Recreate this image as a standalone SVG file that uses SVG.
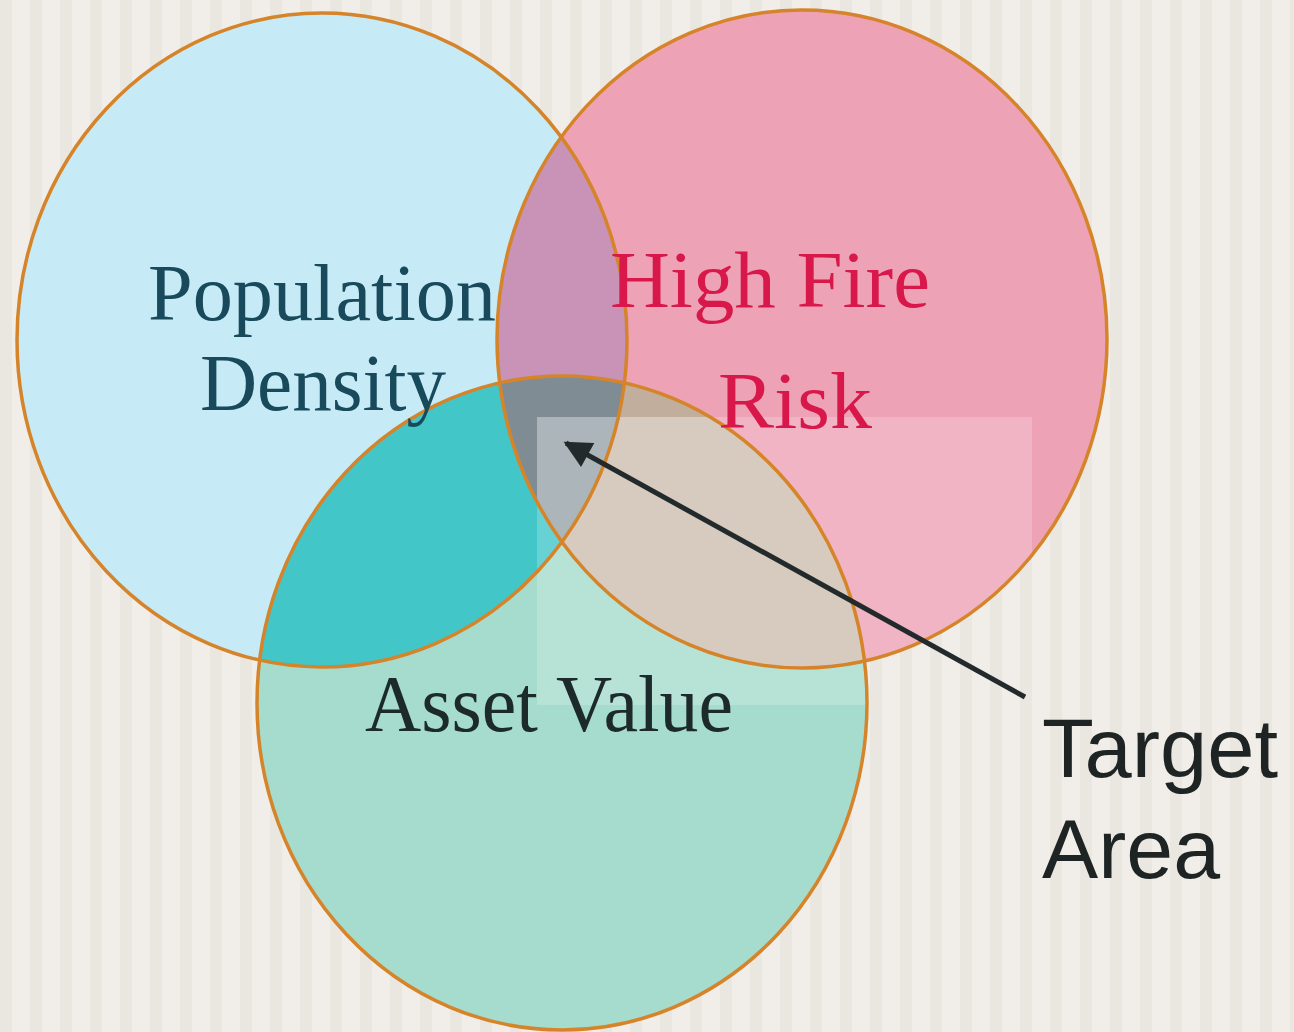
<svg xmlns="http://www.w3.org/2000/svg" width="1294" height="1032" viewBox="0 0 1294 1032">
<defs>
<style>
.ring{fill:none;stroke:#d6842a;stroke-width:3.5}
.lbl{font-family:"Liberation Serif","DejaVu Serif",serif;font-size:80px}
.sans{font-family:"Liberation Sans",Arial,sans-serif;font-size:84px;fill:#1e2424}
</style>
<pattern id="stripes" width="30" height="1032" patternUnits="userSpaceOnUse">
<rect width="30" height="1032" fill="#f1eee9"/>
<rect x="0" width="12" height="1032" fill="#e6e2dc" opacity="0.6"/>
</pattern>
<clipPath id="cBlue"><ellipse cx="322" cy="340" rx="305" ry="327"/></clipPath>
<clipPath id="cRed"><ellipse cx="802" cy="339" rx="305" ry="329"/></clipPath>
<clipPath id="cGreen"><ellipse cx="562" cy="703" rx="305" ry="327"/></clipPath>
<marker id="ah" viewBox="0 0 10 10" refX="9" refY="5" markerWidth="6" markerHeight="5.5" orient="auto" markerUnits="strokeWidth">
<path d="M0,0 L10,5 L0,10 Z" fill="#222a2c"/>
</marker>
</defs>
<rect width="1294" height="1032" fill="url(#stripes)"/>

<g id="node-population-density">
<ellipse cx="322" cy="340" rx="305" ry="327" fill="#c6eaf6"/>
</g>
<g id="node-high-fire-risk">
<ellipse cx="802" cy="339" rx="305" ry="329" fill="#eea2b6"/>
</g>
<g id="node-asset-value">
<ellipse cx="562" cy="703" rx="305" ry="327" fill="#a6dccd"/>
</g>

<g id="overlaps">
<g clip-path="url(#cBlue)"><ellipse cx="802" cy="339" rx="305" ry="329" fill="#c893b6"/></g>
<g clip-path="url(#cBlue)"><ellipse cx="562" cy="703" rx="305" ry="327" fill="#43c6c8"/></g>
<g clip-path="url(#cRed)"><ellipse cx="562" cy="703" rx="305" ry="327" fill="#c2ae9c"/></g>
<g clip-path="url(#cRed)"><g clip-path="url(#cBlue)"><ellipse cx="562" cy="703" rx="305" ry="327" fill="#7f8c94"/></g></g>
<g clip-path="url(#cRed)"><rect x="537" y="417" width="495" height="288" fill="#ffffff" opacity="0.2"/></g>
<g clip-path="url(#cGreen)"><rect x="537" y="417" width="495" height="288" fill="#ffffff" opacity="0.2"/></g>
</g>

<g id="rings">
<ellipse class="ring" cx="322" cy="340" rx="305" ry="327"/>
<ellipse class="ring" cx="802" cy="339" rx="305" ry="329"/>
<ellipse class="ring" cx="562" cy="703" rx="305" ry="327"/>
</g>

<g id="labels">
<text class="lbl" fill="#184a5c" x="148" y="320" textLength="348" lengthAdjust="spacingAndGlyphs">Population</text>
<text class="lbl" fill="#184a5c" x="200" y="410" textLength="246" lengthAdjust="spacingAndGlyphs">Density</text>
<text class="lbl" fill="#d8174a" x="610" y="307" textLength="320" lengthAdjust="spacingAndGlyphs">High Fire</text>
<text class="lbl" fill="#d8174a" x="718" y="428" textLength="154" lengthAdjust="spacingAndGlyphs">Risk</text>
<text class="lbl" fill="#1c2a2c" x="365" y="731" font-size="77" textLength="368" lengthAdjust="spacingAndGlyphs">Asset Value</text>
</g>

<g id="node-target-area">
<text class="sans" x="1042" y="777" textLength="236" lengthAdjust="spacingAndGlyphs">Target</text>
<text class="sans" x="1042" y="878" textLength="178" lengthAdjust="spacingAndGlyphs">Area</text>
</g>

<g id="connectors">
<line x1="1025" y1="697" x2="566" y2="443" stroke="#222a2c" stroke-width="5" marker-end="url(#ah)"/>
</g>
</svg>
